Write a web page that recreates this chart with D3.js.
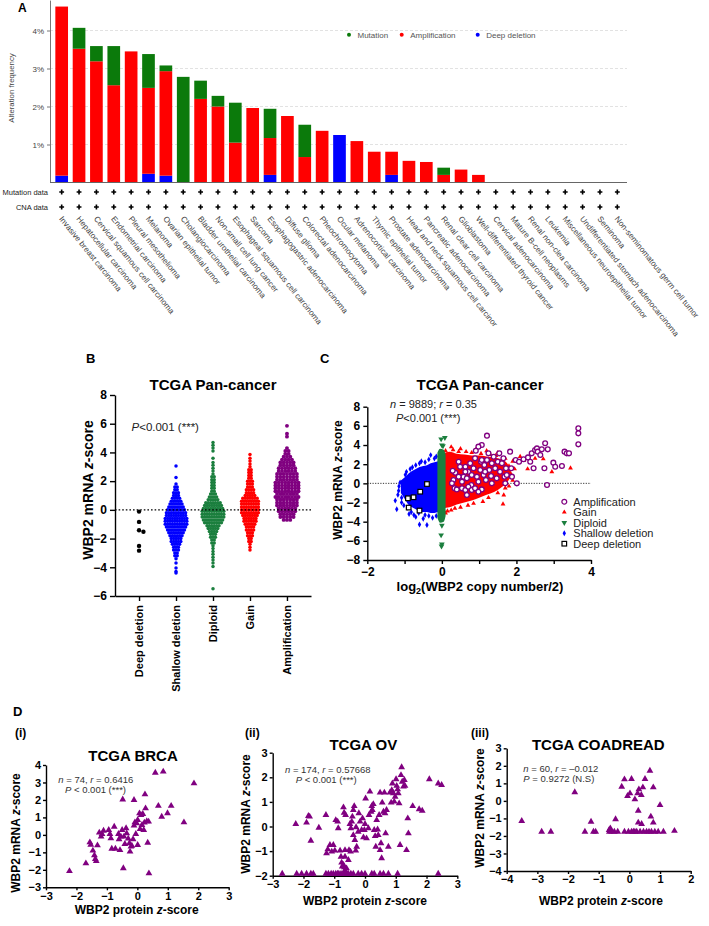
<!DOCTYPE html>
<html>
<head>
<meta charset="utf-8">
<script src="https://cdn.jsdelivr.net/npm/d3@7"></script>
<style>
  body { margin: 0; background: #fff; }
</style>
</head>
<body>
<script>
// ---------- Panel A data ----------
const cancerTypes = [
  "Invasive breast carcinoma", "Hepatocellular carcinoma", "Cervical squamous cell carcinoma",
  "Endometrial carcinoma", "Pleural mesothelioma", "Melanoma", "Ovarian epithelial tumor",
  "Cholangiocarcinoma", "Bladder urothelial carcinoma", "Non-small cell lung cancer",
  "Esophageal squamous cell carcinoma", "Sarcoma", "Esophagogastric adenocarcinoma",
  "Diffuse glioma", "Colorectal adenocarcinoma", "Pheochromocytoma", "Ocular melanoma",
  "Adrenocortical carcinoma", "Thymic epithelial tumor", "Prostate adenocarcinoma",
  "Head and neck squamous cell carcinor", "Pancreatic adenocarcinoma", "Renal clear cell carcinoma",
  "Glioblastoma", "Well-differentiated thyroid cancer", "Cervical adenocarcinoma",
  "Mature B-cell neoplasms", "Renal non-clea carcinoma", "Leukemia",
  "Miscellaneous neuroepithelial tumor", "Undifferentiated stomach adenocarcinoma", "Seminoma",
  "Non-seminomatous germ cell tumor"
];
const deepDeletionPct = [0.18, 0, 0, 0, 0, 0.23, 0.18, 0, 0, 0, 0, 0, 0.20, 0, 0, 0, 1.25, 0, 0, 0.20, 0, 0, 0, 0, 0, 0, 0, 0, 0, 0, 0, 0, 0];
const amplificationPct = [4.45, 3.52, 3.19, 2.56, 3.45, 2.26, 2.75, 0, 2.20, 2.00, 1.05, 1.96, 0.97, 1.75, 0.67, 1.36, 0, 1.09, 0.81, 0.61, 0.57, 0.54, 0.20, 0.34, 0.20, 0, 0, 0, 0, 0, 0, 0, 0];
const mutationPct = [0, 0.55, 0.40, 1.03, 0, 0.89, 0.15, 2.78, 0.48, 0.28, 1.05, 0, 0.77, 0, 0.85, 0, 0, 0, 0, 0, 0, 0, 0.19, 0, 0, 0, 0, 0, 0, 0, 0, 0, 0];
const alterationTicks = [1, 2, 3, 4];

// ---------- Panel B data ----------
const cnaGroups = ["Deep deletion", "Shallow deletion", "Diploid", "Gain", "Amplification"];
const bTicks = [-6, -4, -2, 0, 2, 4, 6, 8];
const deepDeletionZ = [-0.12, -0.84, -1.42, -1.52, -2.51, -2.84];
// beeswarm rows: [z-score, number of samples in the row]
const shallowRows = [[3.05,1],[2.25,1],[1.8,1],[1.6,2],[1.4,2],[1.2,3],[1.0,3],[0.8,4],[0.6,5],[0.4,6],[0.2,7],[0.0,8],[-0.2,9],[-0.4,9],[-0.6,10],[-0.8,10],[-1.0,10],[-1.2,9],[-1.4,8],[-1.6,7],[-1.8,6],[-2.0,5],[-2.2,5],[-2.4,4],[-2.6,3],[-2.8,3],[-3.0,2],[-3.2,2],[-3.4,1],[-3.7,1],[-4.05,1],[-4.3,1],[-4.4,1]];
const diploidRows = [[4.7,1],[4.5,1],[4.3,1],[4.1,1],[3.6,1],[3.3,1],[3.1,1],[2.9,1],[2.7,1],[2.5,1],[2.3,2],[2.1,2],[1.9,2],[1.7,2],[1.5,2],[1.3,2],[1.1,3],[0.9,4],[0.7,5],[0.5,7],[0.3,8],[0.1,9],[-0.1,10],[-0.3,10],[-0.5,10],[-0.7,9],[-0.9,8],[-1.1,6],[-1.3,5],[-1.5,4],[-1.7,3],[-1.9,3],[-2.1,2],[-2.3,2],[-2.5,1],[-2.7,1],[-2.9,1],[-3.1,1],[-3.3,1],[-3.5,1],[-3.7,1],[-3.95,1],[-5.5,1]];
const gainRows = [[3.85,1],[3.6,1],[3.4,1],[3.2,1],[3.0,1],[2.8,2],[2.6,2],[2.4,2],[2.2,2],[2.0,3],[1.8,3],[1.6,3],[1.4,4],[1.2,4],[1.0,5],[0.8,7],[0.6,8],[0.4,8],[0.2,8],[0.0,8],[-0.2,8],[-0.4,7],[-0.6,6],[-0.8,6],[-1.0,5],[-1.2,4],[-1.4,4],[-1.6,3],[-1.8,3],[-2.0,2],[-2.2,2],[-2.4,1],[-2.6,1],[-2.8,1]];
const amplificationRows = [[5.85,1],[5.3,1],[5.1,1],[4.3,1],[4.1,2],[3.9,2],[3.7,3],[3.5,4],[3.3,5],[3.1,5],[2.9,6],[2.7,6],[2.5,7],[2.3,7],[2.1,7],[1.9,8],[1.7,8],[1.5,8],[1.3,8],[1.1,7],[0.9,8],[0.7,7],[0.5,7],[0.3,7],[0.1,6],[-0.1,6],[-0.3,5],[-0.5,5],[-0.7,3]];

// ---------- Panel C data ----------
const cXTicks = [-2, -1, 0, 1, 2, 3, 4];
const cYTicks = [-8, -6, -4, -2, 0, 2, 4, 6, 8];
// dense clouds: [log2 CN, lowest z, highest z]
const shallowCloud = [[-1.10,-1.0,0.3],[-1.0,-1.6,0.6],[-0.9,-2.2,1.0],[-0.8,-2.5,1.3],[-0.7,-2.7,1.5],[-0.6,-2.9,1.7],[-0.5,-3.0,1.8],[-0.4,-3.0,1.9],[-0.3,-3.1,2.1],[-0.2,-3.1,2.2],[-0.1,-3.0,2.3],[-0.04,-3.0,2.4]];
const gainCloud = [[0.04,-2.6,3.1],[0.2,-2.5,3.3],[0.4,-2.2,3.1],[0.6,-2.0,3.0],[0.8,-1.8,2.9],[1.0,-1.5,2.9],[1.2,-1.2,2.8],[1.4,-0.9,2.7],[1.6,-0.4,2.5],[1.75,0.1,2.1],[1.85,0.7,1.4]];
const diploidCloud = [[-0.12,-3.6,3.2],[-0.05,-4.1,3.6],[0.05,-4.0,3.5],[0.1,-3.4,3.0]];
const shallowPoints = [[-1.21,-2.7],[-1.16,-0.77],[-1.05,-0.86],[-0.92,-2.54],[-0.88,-3.2],[-0.79,1.68],[-0.6,-4.3],[-0.4,-4.35],[-0.3,2.95],[-1.12,0.1],[-0.98,0.9],[-0.7,-3.5],[-0.5,-3.7],[-0.25,-3.6],[-0.55,2.3],[-0.15,2.8],[-1.25,-1.8],[-1.08,-2.0],[-0.82,-3.0],[-0.35,-3.4],
  [-0.95,1.2],[-0.85,1.5],[-0.7,1.9],[-0.6,2.1],[-0.45,2.2],[-0.35,2.5],[-0.2,2.6],[-1.15,-0.3],[-1.18,-1.2],[-1.02,-2.3],[-0.75,-3.3],[-0.45,-3.3],[-0.15,-3.4],[-1.0,0.3],[-1.08,-1.5],[-0.62,-3.1]];
const gainPoints = [[0.25,3.8],[0.5,3.6],[0.9,3.5],[1.2,3.4],[1.5,3.2],[1.66,-1.22],[1.64,-2.16],[2.2,2.4],[2.5,2.6],[2.72,2.55],[2.95,1.2],[3.45,1.6],[1.95,1.5],[2.1,2.8],[1.8,-0.3],[0.15,-2.9],[0.35,-2.6],[0.7,-2.3],[1.1,-1.9],[1.9,0.3],
  [0.1,3.4],[0.3,3.5],[0.45,3.3],[0.65,3.3],[0.8,3.2],[1.05,3.1],[1.3,3.0],[1.45,2.9],[1.7,2.6],[1.8,1.8],[1.85,1.0],[0.1,-3.1],[0.25,-2.8],[0.5,-2.5],[0.85,-2.1],[1.25,-1.5],[1.5,-1.0],[1.7,-0.5],[1.9,2.3],[2.3,1.5]];
const diploidPoints = [[-0.02,4.62],[0.08,4.76],[0.0,4.0],[0.03,3.9],[0.0,-4.4],[-0.02,-5.4],[0.0,-6.35],[-0.01,-6.55]];
const amplificationPoints = [[1.21,4.98],[1.07,4.0],[0.98,3.83],[0.91,3.41],[0.89,2.61],[0.45,2.26],[0.63,1.74],[0.76,2.09],[0.36,1.11],[0.29,1.32],[0.34,-0.52],[0.40,-0.63],[0.31,0.35],[0.27,0.0],[0.54,0.17],[0.58,0.70],[0.67,0.52],[0.71,1.22],[0.79,-0.17],[0.80,0.87],[0.85,1.57],[0.94,0.70],[0.98,0.17],[1.03,1.39],[1.05,2.26],[1.07,-0.63],[1.12,0.87],[1.14,1.91],[1.18,0.35],[1.21,2.44],[1.25,3.13],[1.27,1.39],[1.32,0.77],[1.34,2.09],[1.39,2.78],[1.43,1.57],[1.47,0.52],[1.50,2.26],[1.54,3.13],[1.56,1.22],[1.61,2.09],[1.65,2.61],[1.68,0.70],[1.72,1.57],[1.74,0.87],[1.83,3.31],[1.86,1.57],[1.88,0.70],[2.01,0.0],[1.98,2.44],[2.07,2.26],[2.19,2.51],[2.31,2.71],[2.37,2.26],[2.41,3.13],[2.46,1.57],[2.50,3.48],[2.55,3.65],[2.57,3.31],[2.64,2.96],[2.68,3.55],[2.77,4.18],[2.75,1.57],[2.84,3.55],[2.82,-0.17],[2.99,2.16],[3.04,1.74],[3.22,1.81],[3.29,3.31],[3.35,3.13],[3.41,3.13],[3.66,5.74],[3.66,5.22],[3.66,4.07],[0.54,-0.52],[0.63,-0.70],[0.71,-0.35],[0.80,-0.70],[0.89,-0.52],[0.98,-0.87],[0.67,-1.22],[0.45,0.70],[0.63,1.22],[1.07,2.44],[0.49,1.74],[1.16,1.22],[1.34,0.0],[1.70,0.0]];
const deepDeletionPoints = [[-0.4,-0.07],[-0.58,-0.87],[-0.76,-1.45],[-0.91,-1.56],[-0.89,-2.53],[-0.6,-2.84]];

// ---------- Panel D data ----------
const brcaPoints = [[-2.23,-2.07],[-1.69,-1.63],[-1.56,-0.43],[-1.53,-0.56],[-1.46,-0.90],[-1.41,-1.17],[-1.38,-1.38],[-1.35,-1.50],[-1.31,-0.60],[-1.25,0.13],[-1.19,-0.10],[-1.16,0.05],[-1.11,0.24],[-0.94,0.28],[-0.90,0.05],[-0.87,-0.20],[-0.84,-0.79],[-0.76,0.47],[-0.72,-0.79],[-0.62,0.05],[-0.60,-0.25],[-0.57,-0.87],[-0.54,-0.10],[-0.50,0.28],[-0.48,2.03],[-0.46,-1.91],[-0.44,-0.10],[-0.41,-0.52],[-0.37,0.38],[-0.35,0.09],[-0.30,-0.21],[-0.26,-0.48],[-0.24,-0.96],[-0.21,-0.67],[-0.18,-0.62],[-0.14,-0.25],[-0.11,2.00],[-0.11,0.53],[-0.08,0.72],[-0.05,0.05],[-0.02,0.66],[0.01,0.85],[0.01,-0.58],[0.07,1.23],[0.09,0.34],[0.12,1.14],[0.15,0.57],[0.18,1.20],[0.21,0.28],[0.23,0.70],[0.25,2.32],[0.27,1.52],[0.31,0.78],[0.34,-0.45],[0.37,0.76],[0.38,-2.20],[0.59,3.56],[0.85,3.62],[0.69,1.66],[0.80,1.04],[0.99,1.24],[1.11,1.66],[1.53,0.72],[1.86,2.95]];
const ovPoints = [[-2.69,-1.92],[-2.22,-1.92],[-2.06,-1.92],[-1.90,-1.92],[-1.76,-1.92],[-1.68,-1.92],[-1.27,-1.92],[-1.19,-1.92],[-1.10,-1.92],[-1.03,-1.92],[-0.95,-1.92],[-0.89,-1.92],[-0.85,-1.92],[-0.78,-1.92],[-0.70,-1.92],[-0.65,-1.92],[-0.60,-1.92],[-0.54,-1.92],[-0.46,-1.92],[-0.38,-1.92],[-0.22,-1.92],[-0.11,-1.92],[0.00,-1.92],[0.22,-1.92],[0.30,-1.92],[0.49,-1.92],[0.60,-1.92],[0.76,-1.92],[1.06,-1.92],[2.38,-1.92],
  [-2.25,0.10],[-1.90,0.16],[-1.84,0.43],[-1.80,0.40],[-1.76,-0.58],[-1.50,-0.05],[-1.27,0.47],[-1.25,-1.09],[-1.21,-0.93],[-1.14,-0.75],[-1.08,-1.02],[-1.03,-0.75],[-0.98,-0.98],[-0.95,0.26],[-0.89,0.20],[-0.87,-0.07],[-0.81,-0.98],[-0.78,-1.23],[-0.76,-1.47],[-0.74,-1.63],[-0.70,0.78],[-0.70,-1.56],[-0.68,0.56],[-0.67,-1.66],[-0.65,-0.96],[-0.65,-1.23],[-0.65,-1.77],[-0.63,0.47],[-0.60,-1.70],[-0.54,-1.36],[-0.52,-0.96],[-0.49,0.10],[-0.47,-1.02],[-0.46,-0.07],[-0.43,0.20],[-0.41,0.40],[-0.38,0.67],[-0.38,-0.35],[-0.35,0.83],[-0.33,-0.55],[-0.30,-0.98],[-0.29,-0.03],[-0.27,-0.82],[-0.22,-0.21],[-0.20,0.54],[-0.16,0.20],[-0.11,-0.14],[-0.08,0.33],[-0.05,-0.44],[-0.02,-0.14],[0.00,0.10],[0.02,1.14],[0.05,-0.48],[0.11,-0.07],[0.13,0.47],[0.16,1.42],[0.20,0.60],[0.22,0.83],[0.24,0.67],[0.27,0.91],[0.30,-0.14],[0.33,-0.39],[0.35,-0.82],[0.38,0.26],[0.41,-0.12],[0.43,-0.35],[0.46,0.47],[0.49,-0.96],[0.49,1.38],[0.52,-0.68],[0.54,-1.29],[0.56,0.97],[0.60,0.60],[0.63,1.38],[0.65,0.54],[0.67,-0.28],[0.70,0.67],[0.76,-0.82],[0.81,1.38],[0.85,0.97],[0.87,1.48],[0.89,1.75],[0.92,1.35],[0.95,1.01],[0.98,1.21],[1.01,1.92],[1.03,1.65],[1.06,1.51],[1.08,1.35],[1.11,0.94],[1.14,-0.75],[1.17,2.09],[1.19,2.41],[1.21,1.82],[1.25,1.62],[1.28,1.89],[1.30,1.65],[1.35,-0.96],[1.39,0.33],[1.41,-0.28],[1.55,0.83],[1.76,0.70],[1.86,0.64],[2.09,1.92],[2.38,1.75],[2.49,1.69]];
const coadPoints = [[-3.51,-1.15],[-2.86,-1.76],[-2.56,-1.76],[-1.78,0.49],[-1.45,-1.76],[-1.25,-1.19],[-1.17,-1.76],[-1.10,-1.76],[-0.66,-1.66],[-0.65,-1.76],[-0.62,-1.57],[-0.58,-1.76],[-0.49,-1.76],[-0.45,-1.05],[-0.38,-1.76],[-0.25,0.81],[-0.16,1.23],[-0.16,-1.76],[-0.06,0.28],[-0.03,-1.76],[0.02,0.43],[0.07,1.25],[0.07,-1.76],[0.13,-1.76],[0.18,0.09],[0.18,-1.76],[0.24,-1.76],[0.27,0.43],[0.29,-0.56],[0.29,-1.24],[0.31,0.66],[0.35,-1.76],[0.39,0.34],[0.40,-1.32],[0.44,0.77],[0.46,-1.76],[0.51,1.25],[0.56,-1.76],[0.64,-1.76],[0.67,1.72],[0.70,-0.90],[0.72,-1.76],[0.78,0.77],[0.78,-1.24],[0.83,-1.76],[0.94,-1.76],[1.00,-0.24],[1.11,-1.76],[1.47,-1.71]];

// ---------- drawing ----------
const FONT = '"Liberation Sans", Arial, Helvetica, sans-serif';
const PURPLE = "#800080";
const GREEN = "#1b7f3e";
const svg = d3.select("body").append("svg")
  .attr("width", 709).attr("height", 926)
  .attr("font-family", FONT);
svg.append("rect").attr("width", 709).attr("height", 926).attr("fill", "#fff");

function label(g, x, y, str, size, bold, anchor) {
  return g.append("text").attr("x", x).attr("y", y)
    .attr("font-size", size).attr("font-weight", bold ? "bold" : null)
    .attr("text-anchor", anchor || "start").text(str);
}
// text made of [string, italic] parts
function rich(g, x, y, parts, size, bold, anchor, tr) {
  const t = g.append("text").attr("x", x).attr("y", y)
    .attr("font-size", size).attr("font-weight", bold ? "bold" : null)
    .attr("text-anchor", anchor || "start").attr("fill", "#222");
  if (tr) t.attr("transform", tr);
  parts.forEach(p => t.append("tspan").text(p[0]).attr("font-style", p[1] ? "italic" : null));
  return t;
}
function styleAxis(g, size) {
  g.attr("font-family", FONT).attr("font-size", size).attr("font-weight", "bold");
  g.selectAll("path,line").attr("stroke", "#000").attr("stroke-width", 1.4);
  g.selectAll("text").attr("fill", "#000");
}

// ===== Panel A =====
const gA = svg.append("g");
const xA = d3.scaleBand().domain(cancerTypes).range([53, 626]).paddingInner(0.27).paddingOuter(0.135);
const yA = d3.scaleLinear().domain([0, 4.8]).range([182.5, 0.1]);

gA.selectAll("line.grid").data(alterationTicks).join("line").attr("class", "grid")
  .attr("x1", 50).attr("x2", 627).attr("y1", d => yA(d)).attr("y2", d => yA(d))
  .attr("stroke", "#e2e2e2").attr("stroke-dasharray", "3,2");

const axA = gA.append("g").attr("transform", "translate(50,0)")
  .call(d3.axisLeft(yA).tickValues(alterationTicks).tickSize(3).tickSizeOuter(0).tickFormat(d => d + "%"));
axA.attr("font-family", FONT).attr("font-size", 8);
axA.selectAll("path,line").attr("stroke", "#777");
axA.selectAll("text").attr("fill", "#444");

const rowsA = cancerTypes.map((c, i) => ({ type: c, del: deepDeletionPct[i], amp: amplificationPct[i], mut: mutationPct[i] }));
const stackA = d3.stack().keys(["del", "amp", "mut"])(rowsA);
const colA = { del: "#0000ff", amp: "#ff0000", mut: "#0b7a0b" };
gA.selectAll("g.layer").data(stackA).join("g").attr("class", "layer").attr("fill", d => colA[d.key])
  .selectAll("rect").data(d => d.filter(s => s[1] > s[0])).join("rect")
  .attr("x", d => xA(d.data.type)).attr("width", xA.bandwidth())
  .attr("y", d => yA(d[1])).attr("height", d => yA(d[0]) - yA(d[1]));

gA.append("line").attr("x1", 50).attr("x2", 627).attr("y1", 182.5).attr("y2", 182.5)
  .attr("stroke", "#666").attr("stroke-width", 1.2);

const cross = d3.symbol().type(d3.symbolCross).size(13);
[["Mutation data", 192], ["CNA data", 207]].forEach(([name, yy]) => {
  label(gA, 48, yy + 2.7, name, 7.5, false, "end").attr("fill", "#222");
  gA.selectAll(null).data(cancerTypes).join("path").attr("d", cross)
    .attr("transform", d => `translate(${xA(d) + xA.bandwidth() / 2},${yy})`).attr("fill", "#000");
});

gA.selectAll("text.clab").data(cancerTypes).join("text").attr("class", "clab")
  .attr("transform", d => `translate(${xA(d) + xA.bandwidth() / 2 - 3},219) rotate(51)`)
  .attr("font-size", 8.1).attr("fill", "#444").text(d => d);

label(gA, 0, 0, "Alteration frequency", 7.8, false, "middle")
  .attr("transform", "translate(14,88) rotate(-90)").attr("fill", "#444");
label(gA, 18, 12, "A", 12, true);

[["Mutation", colA.mut, 349], ["Amplification", colA.amp, 401.7], ["Deep deletion", colA.del, 477.7]].forEach(([n, c, lx]) => {
  gA.append("circle").attr("cx", lx).attr("cy", 34.7).attr("r", 2).attr("fill", c);
  label(gA, lx + 8.5, 37.5, n, 8, false).attr("fill", "#555");
});

// ===== Panel B =====
const gB = svg.append("g");
const xB = d3.scalePoint().domain(cnaGroups).range([115, 311]).padding(0.65);
const yB = d3.scaleLinear().domain([-6, 8]).range([596, 395]);

function rowDots(rows, cx, gap) {
  const pts = [];
  rows.forEach(([z, n]) => {
    for (let i = 0; i < n; i++) pts.push([cx + (i - (n - 1) / 2) * gap, yB(z)]);
  });
  return pts;
}
function swarm(values, cx, r) {
  const placed = [];
  values.forEach(v => {
    const py = yB(v);
    let k = 0, dx = 0;
    for (;;) {
      dx = (k % 2 ? 1 : -1) * Math.ceil(k / 2) * 2 * r;
      if (placed.every(p => Math.hypot(p[0] - cx - dx, p[1] - py) >= 2 * r)) break;
      k++;
    }
    placed.push([cx + dx, py]);
  });
  return placed;
}
const swarmSets = [
  { pts: swarm(deepDeletionZ, xB("Deep deletion"), 2.2), r: 2.2, c: "#000" },
  { pts: rowDots(shallowRows, xB("Shallow deletion"), 2.4), r: 1.75, c: "#0000ff" },
  { pts: rowDots(diploidRows, xB("Diploid"), 2.4), r: 1.75, c: GREEN },
  { pts: rowDots(gainRows, xB("Gain"), 2.4), r: 1.75, c: "#ff0000" },
  { pts: rowDots(amplificationRows, xB("Amplification"), 3.3), r: 1.95, c: PURPLE }
];
swarmSets.forEach(s => {
  gB.append("g").attr("fill", s.c).selectAll("circle").data(s.pts).join("circle")
    .attr("cx", d => d[0]).attr("cy", d => d[1]).attr("r", s.r);
});
gB.append("line").attr("x1", 115).attr("x2", 311).attr("y1", yB(0)).attr("y2", yB(0))
  .attr("stroke", "#000").attr("stroke-width", 1.4).attr("stroke-dasharray", "1.6,2");

const axBy = gB.append("g").attr("transform", "translate(115,0)")
  .call(d3.axisLeft(yB).tickValues(bTicks).tickSize(5).tickSizeOuter(0));
styleAxis(axBy, 12);
const axBx = gB.append("g").attr("transform", "translate(0,596)")
  .call(d3.axisBottom(xB).tickSize(5).tickSizeOuter(0));
styleAxis(axBx, 11);
axBx.selectAll("text").attr("transform", "rotate(-90)").attr("text-anchor", "end")
  .attr("x", -9).attr("y", 0).attr("dy", "0.35em");

label(gB, 213, 390, "TCGA Pan-cancer", 15, true, "middle");
rich(gB, 131.5, 431, [["P", true], ["<0.001 (***)", false]], 11.5);
rich(gB, 0, 0, [["WBP2 mRNA ", false], ["z", true], ["-score", false]], 14, true, "middle", "translate(93,490) rotate(-90)").attr("fill", "#000");
label(gB, 86, 363, "B", 13, true);

// ===== Panel C =====
const gC = svg.append("g");
const xC = d3.scaleLinear().domain([-2, 4]).range([367.3, 591]);
const yC = d3.scaleLinear().domain([-8, 8]).range([560, 406.7]);

gC.append("line").attr("x1", 367.3).attr("x2", 591).attr("y1", yC(0)).attr("y2", yC(0))
  .attr("stroke", "#000").attr("stroke-width", 0.8).attr("stroke-dasharray", "1.2,1.4");

const cloudArea = d3.area().x(d => xC(d[0])).y0(d => yC(d[1])).y1(d => yC(d[2])).curve(d3.curveMonotoneX);
const sym = (type, size) => d3.symbol().type(type).size(size);
function cloud(data, pts, color, type, size, rot) {
  gC.append("path").datum(data).attr("d", cloudArea).attr("fill", color);
  gC.append("g").selectAll("path").data(pts).join("path").attr("d", sym(type, size))
    .attr("transform", d => `translate(${xC(d[0])},${yC(d[1])})${rot ? " rotate(180)" : ""}`)
    .attr("fill", color);
}
cloud(shallowCloud, shallowPoints, "#0000ff", d3.symbolDiamond, 10);
cloud(gainCloud, gainPoints, "#ff0000", d3.symbolTriangle, 10);
cloud(diploidCloud, diploidPoints, GREEN, d3.symbolTriangle, 14, true);

gC.append("g").selectAll("circle").data(amplificationPoints).join("circle")
  .attr("cx", d => xC(d[0])).attr("cy", d => yC(d[1])).attr("r", 2.4)
  .attr("fill", "#fff").attr("stroke", PURPLE).attr("stroke-width", 1.3);
gC.append("g").selectAll("rect").data(deepDeletionPoints).join("rect")
  .attr("x", d => xC(d[0]) - 2.3).attr("y", d => yC(d[1]) - 2.3).attr("width", 4.6).attr("height", 4.6)
  .attr("fill", "#fff").attr("stroke", "#000").attr("stroke-width", 1.2);

const axCy = gC.append("g").attr("transform", "translate(367.3,0)")
  .call(d3.axisLeft(yC).tickValues(cYTicks).tickSize(4).tickSizeOuter(0));
styleAxis(axCy, 12);
const axCx = gC.append("g").attr("transform", "translate(0,560)")
  .call(d3.axisBottom(xC).tickValues(cXTicks).tickSize(4).tickSizeOuter(0)
    .tickFormat(d => d % 2 === 0 ? d3.format("d")(d) : ""));
styleAxis(axCx, 12);

label(gC, 480, 390, "TCGA Pan-cancer", 15, true, "middle");
rich(gC, 390, 408, [["n", true], [" = 9889; ", false], ["r", true], [" = 0.35", false]], 11);
rich(gC, 396, 421.5, [["P", true], ["<0.001 (***)", false]], 11);
rich(gC, 0, 0, [["WBP2 mRNA ", false], ["z", true], ["-score", false]], 12, true, "middle", "translate(342,480) rotate(-90)").attr("fill", "#000");
const xlC = gC.append("text").attr("x", 480).attr("y", 591).attr("text-anchor", "middle")
  .attr("font-size", 13).attr("font-weight", "bold");
xlC.append("tspan").text("log");
xlC.append("tspan").text("2").attr("font-size", 9).attr("dy", 3);
xlC.append("tspan").text("(WBP2 copy number/2)").attr("dy", -3);
label(gC, 320, 363, "C", 13, true);

const legC = [
  ["Amplification", g => g.append("circle").attr("r", 2.4).attr("fill", "#fff").attr("stroke", PURPLE).attr("stroke-width", 1.3)],
  ["Gain", g => g.append("path").attr("d", sym(d3.symbolTriangle, 10)).attr("fill", "#ff0000")],
  ["Diploid", g => g.append("path").attr("d", sym(d3.symbolTriangle, 14)).attr("transform", "rotate(180)").attr("fill", GREEN)],
  ["Shallow deletion", g => g.append("path").attr("d", sym(d3.symbolDiamond, 10)).attr("fill", "#0000ff")],
  ["Deep deletion", g => g.append("rect").attr("x", -2.3).attr("y", -2.3).attr("width", 4.6).attr("height", 4.6).attr("fill", "#fff").attr("stroke", "#000").attr("stroke-width", 1.2)]
];
legC.forEach(([name, draw], i) => {
  const gy = 501.7 + i * 10.5;
  draw(gC.append("g").attr("transform", `translate(564.3,${gy})`));
  label(gC, 573.3, gy + 4, name, 11, false).attr("fill", "#222");
});

// ===== Panel D =====
const tri = d3.symbol().type(d3.symbolTriangle).size(20);
function scatterPanel(o) {
  const g = svg.append("g");
  const x = d3.scaleLinear().domain(o.xDom).range(o.xRange);
  const y = d3.scaleLinear().domain(o.yDom).range(o.yRange);
  const ax = g.append("g").attr("transform", `translate(0,${o.yRange[0]})`)
    .call(d3.axisBottom(x).ticks(o.xDom[1] - o.xDom[0]).tickSize(3).tickPadding(1.5).tickSizeOuter(0));
  styleAxis(ax, 11);
  const ay = g.append("g").attr("transform", `translate(${o.xRange[0]},0)`)
    .call(d3.axisLeft(y).ticks(o.yDom[1] - o.yDom[0]).tickSize(3).tickPadding(2).tickSizeOuter(0));
  styleAxis(ay, 11);
  g.append("g").selectAll("path").data(o.points).join("path").attr("d", tri)
    .attr("transform", d => `translate(${x(d[0])},${y(d[1])})`).attr("fill", PURPLE);
  label(g, o.title[0], o.title[1], o.title[2], 15, true, "middle");
  label(g, o.tag[0], 737, o.tag[1], 12, true);
  rich(g, o.note[0], o.note[1], o.note[2], 9.5).attr("fill", "#333");
  rich(g, o.note[3], o.note[1] + 10, o.note[4], 9.5).attr("fill", "#333");
  rich(g, o.xl[0], o.xl[1], [["WBP2 protein ", false], ["z", true], ["-score", false]], 12, true, "middle").attr("fill", "#000");
  rich(g, 0, 0, [["WBP2 mRNA ", false], ["z", true], ["-score", false]], 12, true, "middle",
    `translate(${o.yl[0]},${o.yl[1]}) rotate(-90)`).attr("fill", "#000");
}
scatterPanel({
  xDom: [-3, 3], xRange: [46, 228.7], yDom: [-3, 4], yRange: [887.3, 765], points: brcaPoints,
  title: [133, 761, "TCGA BRCA"], tag: [15, "(i)"],
  note: [58.3, 782.5, [["n", true], [" = 74, ", false], ["r", true], [" = 0.6416", false]], 65, [["P", true], [" < 0.001 (***)", false]]],
  xl: [136.7, 914], yl: [19.5, 833]
});
scatterPanel({
  xDom: [-3, 3], xRange: [272.7, 457.3], yDom: [-2, 3], yRange: [875.7, 752.7], points: ovPoints,
  title: [363.3, 750, "TCGA OV"], tag: [245, "(ii)"],
  note: [285, 773, [["n", true], [" = 174, ", false], ["r", true], [" = 0.57668", false]], 295.7, [["P", true], [" < 0.001 (***)", false]]],
  xl: [365, 905], yl: [249.5, 814]
});
scatterPanel({
  xDom: [-4, 2], xRange: [506.7, 690.7], yDom: [-4, 3], yRange: [871, 748.3], points: coadPoints,
  title: [598.3, 750, "TCGA COADREAD"], tag: [471, "(iii)"],
  note: [523.3, 771.5, [["n", true], [" = 60, ", false], ["r", true], [" = \u20130.012", false]], 523.3, [["P", true], [" = 0.9272 (N.S)", false]]],
  xl: [601, 904.5], yl: [483.5, 808]
});
label(svg, 13, 716, "D", 13, true);
</script>
</body>
</html>
